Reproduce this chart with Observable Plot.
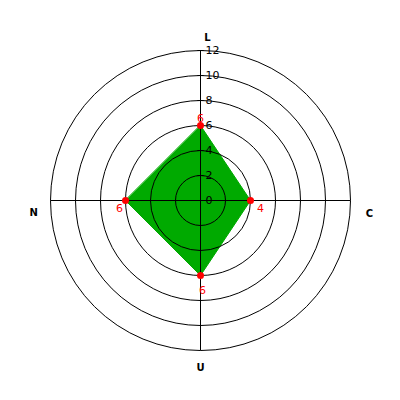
<!DOCTYPE html>
<html><head><meta charset="utf-8">
<script src="https://cdn.jsdelivr.net/npm/d3@7"></script>
<script src="https://cdn.jsdelivr.net/npm/@observablehq/plot@0.6"></script>
<style>body{margin:0;background:#fff}</style>
</head><body><div id="chart"></div>
<script>
const axes = ["L", "C", "U", "N"];
const values = [6, 4, 6, 6];
const ringValues = [2, 4, 6, 8, 10, 12];
const tickLabels = [0, 2, 4, 6, 8, 10, 12];
const maxValue = 12;

// angle for each axis: L up, C right, U down, N left
const angleOf = i => Math.PI / 2 - i * 2 * Math.PI / axes.length;
const pts = axes.map((a, i) => ({axis: a, value: values[i],
  x: values[i] * Math.cos(angleOf(i)), y: values[i] * Math.sin(angleOf(i))}));
const spokes = axes.map((a, i) => ({x1: 0, y1: 0,
  x2: maxValue * Math.cos(angleOf(i)), y2: maxValue * Math.sin(angleOf(i))}));
const labelR = 13.35;
const axisLbl = axes.map((a, i) => ({text: a,
  x: labelR * Math.cos(angleOf(i)), y: labelR * Math.sin(angleOf(i))}));
const axisOff = [[7, 4], [2, 13], [0, 0], [0, 12]];
const valOff = [[0, -7], [10, 8], [2, 15], [-6, 8]];

const marks = [
  Plot.line(pts, {x: "x", y: "y", curve: "linear-closed", fill: "#00aa00", stroke: "#00aa00", strokeWidth: 1}),
  Plot.dot(ringValues, {x: () => 0, y: () => 0, r: d => d, stroke: "black", strokeWidth: 1, fill: "none"}),
  Plot.link(spokes, {x1: "x1", y1: "y1", x2: "x2", y2: "y2", stroke: "black", strokeWidth: 1}),
  Plot.link(tickLabels, {x1: -0.25, x2: 0.25, y1: d => d, y2: d => d, stroke: "black"}),
  Plot.text(tickLabels, {x: () => 0, y: d => d, text: d => String(d), dx: 5, textAnchor: "start", fontSize: 11, fill: "black"}),
];
pts.forEach((p, i) => {
  marks.push(Plot.text([p], {x: "x", y: "y", text: d => String(d.value), dx: valOff[i][0], dy: valOff[i][1], fill: "red", fontSize: 11}));
});
marks.push(Plot.dot(pts, {x: "x", y: "y", r: 3.5, fill: "red", stroke: "none"}));
axisLbl.forEach((l, i) => {
  marks.push(Plot.text([l], {x: "x", y: "y", text: "text", dx: axisOff[i][0], dy: axisOff[i][1], fill: "black", fontSize: 10, fontWeight: "bold"}));
});

const chart = Plot.plot({
  width: 400, height: 400,
  marginLeft: 50, marginRight: 50, marginTop: 50, marginBottom: 50,
  x: {domain: [-maxValue, maxValue], axis: null},
  y: {domain: [-maxValue, maxValue], axis: null},
  r: {type: "linear", domain: [0, maxValue], range: [0, 150]},
  style: {fontFamily: "DejaVu Sans, sans-serif", background: "white"},
  marks
});
document.getElementById("chart").appendChild(chart);
</script>
</body></html>
